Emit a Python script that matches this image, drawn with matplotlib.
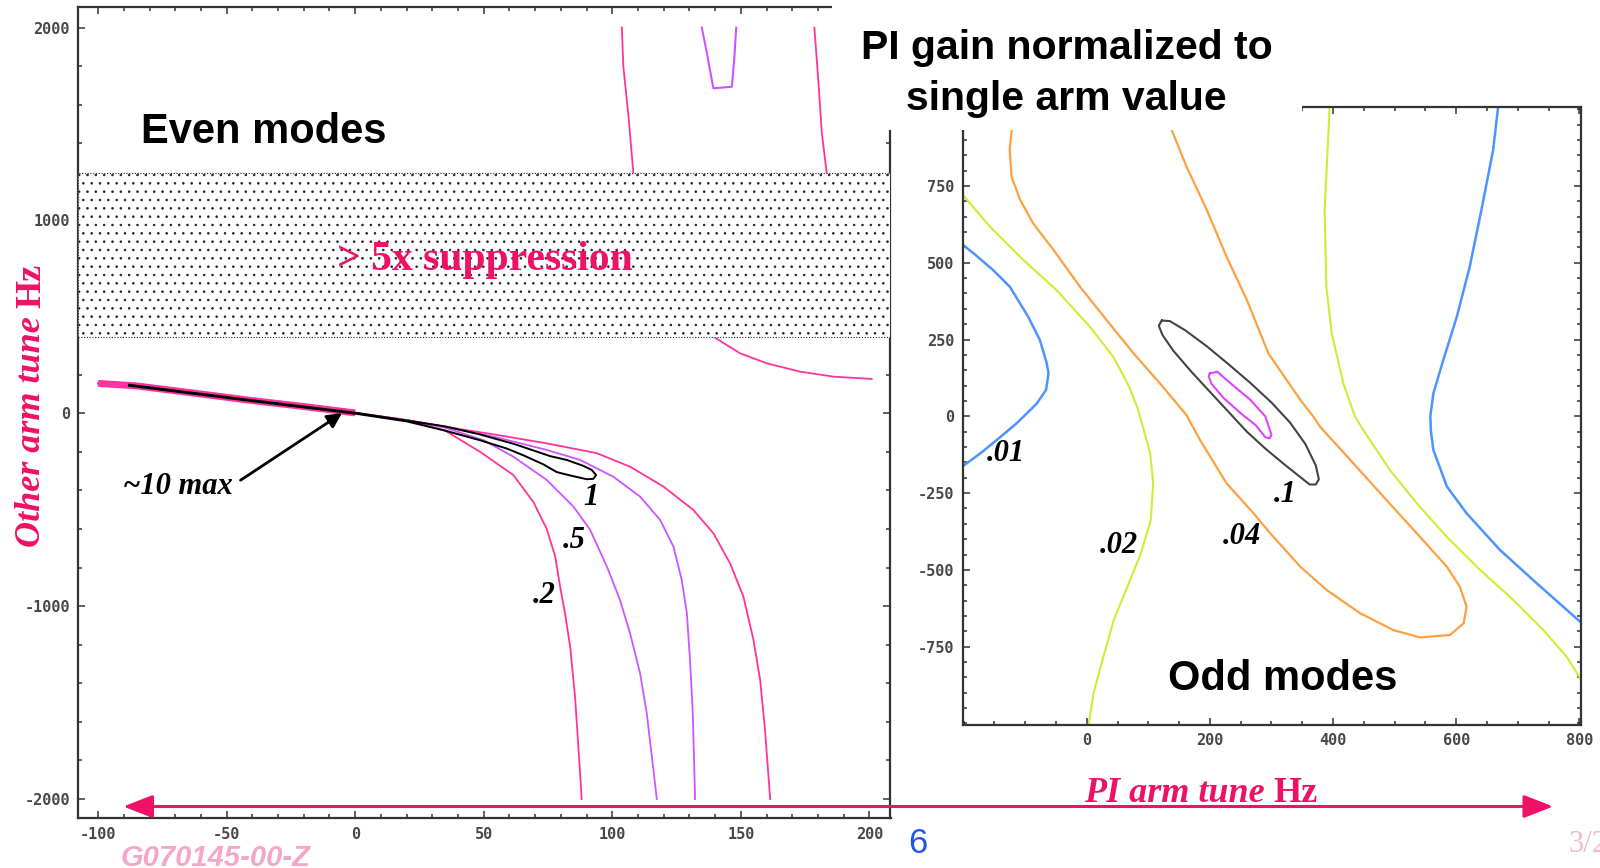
import matplotlib
matplotlib.use("Agg")
import matplotlib.pyplot as plt
from matplotlib.ticker import MultipleLocator, FixedLocator
from matplotlib.patches import Rectangle, FancyArrowPatch

# ---- even modes (left panel) ----
bundle_x = [-100, -85, -60, -42, -20, 0]
bundle_y = [155, 142, 100, 69, 35, 2]

even_02_x = [20, 35, 48.6, 61.5, 69.3, 74.5, 77.8, 79.7, 81.6, 83.6, 85.5, 86.8, 88.1]
even_02_y = [-38, -90, -200, -320, -460, -600, -743, -899, -1037, -1210, -1469, -1729, -2000]
even_05_x = [20, 35, 50, 61.5, 74.5, 84.9, 91.4, 97.9, 103, 106.9, 110.8, 113.4, 115.4, 117.3]
even_05_y = [-35, -75, -140, -225, -346, -484, -605, -795, -968, -1141, -1348, -1556, -1781, -2000]
even_in_x = [20, 35, 55, 74.5, 87.5, 100.4, 110.8, 118.6, 123.8, 127, 129, 130.3, 131.3, 132.2]
even_in_y = [-35, -70, -125, -190, -242, -329, -432, -553, -692, -864, -1037, -1296, -1556, -2000]
even_out_x = [20, 35, 55, 74.5, 94, 106.9, 119.9, 131.5, 139.3, 145.8, 151, 154.9, 157.5, 159.4, 161.4]
even_out_y = [-35, -70, -112, -156, -207, -277, -380, -501, -622, -778, -951, -1175, -1383, -1642, -2000]

even_1_x = [-88, -42, 0, 35, 48.6, 62, 75.8, 82.3, 88.8, 92, 93.7, 92.6, 90.1, 83.5, 78.4,
            73.2, 65.4, 59, 48.6, 35, 20, 0, -42, -88]
even_1_y = [148, 71, 3, -68, -110, -160, -222, -242, -273, -294, -320, -340, -342, -322, -305,
            -265, -218, -183, -140, -90, -42, -2, 66, 143]

top_pink1_x = [103.7, 104.3, 106.3, 108.2]
top_pink1_y = [2000, 1797, 1538, 1244]
top_pink2_x = [178.6, 180.2, 181.5, 183.4]
top_pink2_y = [2000, 1711, 1452, 1244]
top_u_x = [134.8, 136.8, 139.3, 146.5, 147.4, 148.2]
top_u_y = [2000, 1867, 1685, 1693, 1832, 2000]
mid_pink_x = [139.3, 149.7, 160.1, 173.0, 186.0, 200.9]
mid_pink_y = [397, 311, 259, 216, 190, 178]

band_lo, band_hi = 397, 1244

even_labels = ["1", ".5", ".2"]
even_label_x = [91.7, 85.2, 73.6]
even_label_y = [-475, -700, -985]

# ---- odd modes (right panel) ----
odd_01a_x = [-201, -184, -152, -125, -95, -76, -65, -62, -66, -81, -100, -114, -146, -173, -201]
odd_01a_y = [558, 531, 476, 422, 324, 248, 173, 140, 86, 42, 4, -23, -77, -121, -162]
odd_01b_x = [668, 660, 641, 622, 601, 579, 563, 558, 559, 563, 585, 617, 671, 731, 780, 802]
odd_01b_y = [1006, 867, 672, 487, 324, 183, 75, 0, -50, -110, -229, -316, -435, -544, -631, -670]

odd_02a_x = [-201, -157, -103, -49, 5, 43, 68, 82, 92, 103, 108, 104, 88, 66, 44, 27, 11, 3]
odd_02a_y = [720, 617, 509, 411, 292, 194, 100, 30, -40, -120, -218, -338, -446, -555, -663, -783, -902, -1005]
odd_02b_x = [394.5, 391.7, 386.3, 389.1, 397.9, 416.7, 435.7, 449.2, 492.5, 535.9, 584.6, 638.7, 692.8, 741.5, 779.5, 802]
odd_02b_y = [1006, 889, 672, 422, 270, 107, -1, -45, -175, -283, -392, -500, -598, -696, -783, -855]

odd_04_x = [-119, -122, -125, -122, -108, -87, -54, -11, 32, 76, 119, 162, 184, 227, 271, 298, 308,
            347, 390, 444, 498, 541, 590, 612, 617, 606, 585, 536, 487, 428, 379, 368, 347, 295,
            260, 227, 195, 162, 138, 128]
odd_04_y = [1006, 932, 867, 780, 704, 628, 542, 422, 314, 205, 107, 4, -77, -218, -316, -381, -403,
            -490, -566, -641, -696, -720, -712, -674, -620, -555, -490, -381, -273, -142, -34, -1, 53,
            205, 379, 520, 672, 813, 932, 1006]

odd_10_x = [122, 135, 160, 195, 230, 265, 300, 330, 355, 372, 377, 372, 362, 345, 320, 290, 260,
            230, 200, 170, 140, 123, 117, 122]
odd_10_y = [312, 310, 280, 228, 170, 110, 45, -20, -90, -160, -205, -222, -222, -195, -155, -105,
            -50, 15, 80, 145, 215, 265, 295, 312]

odd_in_x = [200, 212, 235, 265, 290, 300, 297, 290, 275, 250, 222, 203, 198, 200]
odd_in_y = [140, 145, 105, 55, 0, -60, -72, -68, -30, 10, 60, 105, 130, 140]

odd_labels = [".01", ".02", ".04", ".1"]
odd_label_x = [-131, 52.5, 251.7, 323]
odd_label_y = [-145, -444, -416, -278]

# ---- style ----
W, H = 1600, 868
PINK = "#FF3399"
VIOLET = "#CC55FF"
CRIMSON = "#EE1166"
SERIF = "Liberation Serif"
SANS = "Liberation Sans"

plt.rcParams["axes.unicode_minus"] = False
plt.rcParams["hatch.linewidth"] = 0.6
plt.rcParams["lines.solid_joinstyle"] = "round"


def fxp(px):
    return px / W


def fyp(py):
    return 1 - py / H


def frame(ax):
    for s in ax.spines.values():
        s.set_linewidth(1.6)
        s.set_color("#333333")
    ax.tick_params(which="both", direction="in", top=True, right=True,
                   color="#333333", width=1.1)
    ax.tick_params(which="major", length=5, labelsize=11, labelcolor="#484848", pad=6)
    ax.tick_params(which="minor", length=3)
    for lab in ax.get_xticklabels() + ax.get_yticklabels():
        lab.set_fontfamily("DejaVu Sans Mono")
        lab.set_fontweight("bold")


fig = plt.figure(figsize=(16, 8.68), dpi=100)

# left panel
ax1 = fig.add_axes([fxp(78.3), fyp(818.3), (890.5 - 78.3) / W, (818.3 - 7.3) / H])
ax1.set_xlim(-107.7, 208.2)
ax1.set_ylim(-2100, 2105)
ax1.xaxis.set_major_locator(FixedLocator([-100, -50, 0, 50, 100, 150, 200]))
ax1.xaxis.set_minor_locator(MultipleLocator(10))
ax1.yaxis.set_major_locator(FixedLocator([-2000, -1000, 0, 1000, 2000]))
ax1.yaxis.set_minor_locator(MultipleLocator(200))
frame(ax1)

ax1.axhspan(band_lo, band_hi, facecolor="white", edgecolor="#222222", hatch="..",
            linewidth=0.8, linestyle=(0, (1, 1.5)), zorder=4)

ax1.plot(bundle_x, bundle_y, color=PINK, lw=5, solid_capstyle="butt", zorder=2)
for xs, ys, c in [(even_02_x, even_02_y, PINK), (even_05_x, even_05_y, VIOLET),
                  (even_in_x, even_in_y, VIOLET), (even_out_x, even_out_y, PINK)]:
    ax1.plot(bundle_x + xs, bundle_y + ys, color=c, lw=1.3, zorder=3)
ax1.plot(even_1_x, even_1_y, color="black", lw=1.4, zorder=3)
ax1.plot(top_pink1_x, top_pink1_y, color=PINK, lw=1.3, zorder=3)
ax1.plot(top_pink2_x, top_pink2_y, color=PINK, lw=1.3, zorder=3)
ax1.plot(top_u_x, top_u_y, color=VIOLET, lw=1.5, zorder=3)
ax1.plot(mid_pink_x, mid_pink_y, color=PINK, lw=1.3, zorder=3)

for t, x, y in zip(even_labels, even_label_x, even_label_y):
    ax1.text(x, y, t, ha="center", va="baseline", fontsize=22, family=SERIF,
             style="italic", weight="bold", zorder=6)

ax1.text(50.3, 743, "> 5x suppression", ha="center", va="baseline", fontsize=30,
         family=SERIF, weight="bold", color=CRIMSON, zorder=6)
ax1.text(-47.7, -418, "~10 max", ha="right", va="baseline", fontsize=22, family=SERIF,
         style="italic", weight="bold", zorder=6)
ax1.annotate("", xy=(-4.2, 8.3), xytext=(-45.5, -355),
             arrowprops=dict(arrowstyle="-|>", color="black", lw=2, mutation_scale=22),
             zorder=6)

# right panel
ax2 = fig.add_axes([fxp(962.7), fyp(725), (1580.7 - 962.7) / W, (725 - 107.3) / H])
ax2.set_xlim(-201.4, 802.2)
ax2.set_ylim(-1005, 1006)
ax2.xaxis.set_major_locator(FixedLocator([0, 200, 400, 600, 800]))
ax2.xaxis.set_minor_locator(MultipleLocator(50))
ax2.yaxis.set_major_locator(FixedLocator([-750, -500, -250, 0, 250, 500, 750]))
ax2.yaxis.set_minor_locator(MultipleLocator(50))
frame(ax2)

ax2.plot(odd_01a_x, odd_01a_y, color="#4D94FF", lw=1.8)
ax2.plot(odd_01b_x, odd_01b_y, color="#4D94FF", lw=1.8)
ax2.plot(odd_02a_x, odd_02a_y, color="#CCEE33", lw=1.5)
ax2.plot(odd_02b_x, odd_02b_y, color="#CCEE33", lw=1.5)
ax2.plot(odd_04_x, odd_04_y, color="#FFA040", lw=1.6)
ax2.plot(odd_10_x, odd_10_y, color="#444444", lw=1.5)
ax2.plot(odd_in_x, odd_in_y, color="#DD44FF", lw=1.5)

for t, x, y in zip(odd_labels, odd_label_x, odd_label_y):
    ax2.text(x, y, t, ha="center", va="baseline", fontsize=22, family=SERIF,
             style="italic", weight="bold")
ax2.text(319, -891, "Odd modes", ha="center", va="baseline", fontsize=30,
         family=SANS, weight="bold")

# title box over the panel corners
fig.add_artist(Rectangle((fxp(831.7), fyp(130)), (1301.7 - 831.7) / W, 130 / H,
                         transform=fig.transFigure, facecolor="white",
                         edgecolor="none", zorder=5))
fig.text(fxp(1066.5), fyp(59.3), "PI gain normalized to", ha="center", va="baseline",
         fontsize=29.5, family=SANS, weight="bold", zorder=6)
fig.text(fxp(1066.5), fyp(110), "single arm value", ha="center", va="baseline",
         fontsize=29.5, family=SANS, weight="bold", zorder=6)
fig.text(fxp(140.6), fyp(142.7), "Even modes", ha="left", va="baseline",
         fontsize=30, family=SANS, weight="bold", zorder=6)

# axis captions
yl = fig.text(fxp(48), fyp(546.7), "Other arm tune", rotation=90, ha="right", va="bottom",
              fontsize=26, family=SERIF, style="italic", weight="bold", color=CRIMSON)
fig.add_artist(plt.Annotation("Hz", xy=(1, 1), xycoords=yl, xytext=(0, 6),
                              textcoords="offset points", rotation=90, ha="right",
                              va="bottom", fontsize=26, family=SERIF, weight="bold",
                              color=CRIMSON))
xl = fig.text(fxp(1084.2), fyp(801.7), "PI arm tune", ha="left", va="baseline",
              fontsize=26, family=SERIF, style="italic", weight="bold", color=CRIMSON,
              zorder=7)
fig.add_artist(plt.Annotation("Hz", xy=(1, 0), xycoords=xl, xytext=(6, 0),
                              textcoords="offset points", ha="left", va="bottom",
                              fontsize=26, family=SERIF, weight="bold", color=CRIMSON,
                              zorder=7))
fig.add_artist(FancyArrowPatch((fxp(120.5), fyp(806.5)), (fxp(1556), fyp(806.5)),
                               transform=fig.transFigure,
                               arrowstyle="<|-|>,head_length=0.9,head_width=0.35",
                               mutation_scale=20, lw=2.2, color=CRIMSON, zorder=7))

# slide footer
fig.text(fxp(120.5), fyp(865.5), "G070145-00-Z", ha="left", va="baseline", fontsize=21,
         family=SANS, style="italic", weight="bold", color="#F2A7C9")
fig.text(fxp(917.5), fyp(853), "6", ha="center", va="baseline", fontsize=25,
         family=SANS, color="#2255EE")
fig.text(fxp(1569), fyp(852), "3/2", ha="left", va="baseline", fontsize=22,
         family=SERIF, color="#F4B6CF")

fig.savefig("out.png", dpi=100)
